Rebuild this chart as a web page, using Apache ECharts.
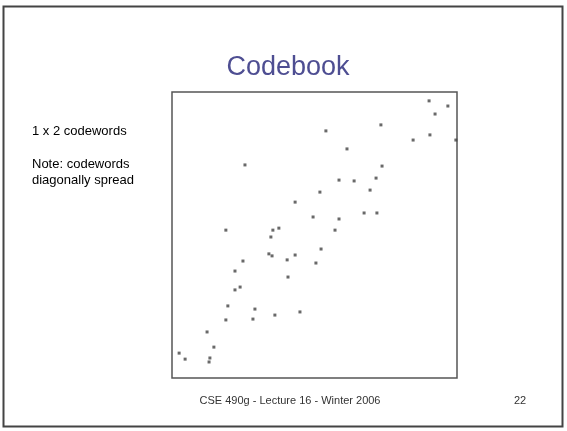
<!DOCTYPE html>
<html>
<head>
<meta charset="utf-8">
<title>Codebook</title>
<script src="https://cdn.jsdelivr.net/npm/echarts@6/dist/echarts.min.js"></script>
<style>
  html, body { margin: 0; padding: 0; background: #fff; }
  #chart { width: 567px; height: 431px; }
</style>
</head>
<body>
<div id="chart"></div>
<script>
// codeword positions (x, y), scale 0-100
var codeX = [90.2, 96.8, 92.3, 73.3, 54.0, 84.6, 90.5, 99.6, 61.4, 25.6,
  73.7, 58.6, 63.9, 71.6, 51.9, 69.5, 43.2, 49.5, 58.6, 67.4,
  71.9, 57.2, 18.9, 35.4, 37.5, 34.7, 34.0, 35.1, 43.2, 40.4,
  52.3, 50.5, 24.9, 22.1, 40.7, 22.1, 23.9, 19.6, 29.1, 28.4,
  36.1, 44.9, 18.9, 12.3, 14.7, 2.5, 4.6, 13.3, 13.0];
var codeY = [96.9, 95.1, 92.3, 88.5, 86.4, 83.2, 85.0, 83.2, 80.1, 74.5,
  74.1, 69.2, 68.9, 69.9, 65.0, 65.7, 61.5, 56.3, 55.6, 57.7,
  57.7, 51.7, 51.7, 51.7, 52.4, 49.3, 43.4, 42.7, 43.0, 41.3,
  45.1, 40.2, 40.9, 37.4, 35.3, 30.8, 31.8, 25.2, 24.1, 20.6,
  22.0, 23.1, 20.3, 16.1, 10.8, 8.7, 6.6, 7.0, 5.6];

var sideLines = ["1 x 2 codewords", "", "Note: codewords", "diagonally spread"];
var footerText = "CSE 490g - Lecture 16 - Winter 2006";
var pageNo = "22";

var points = [];
for (var i = 0; i < codeX.length; i++) {
  points.push([codeX[i], codeY[i]]);
}

var font = "Liberation Sans, Arial, sans-serif";
var myChart = echarts.init(document.getElementById("chart"));

var option = {
  backgroundColor: "#fff",
  animation: false,
  grid: {
    left: 172,
    top: 92,
    width: 285,
    height: 286,
    show: true,
    borderColor: "#555",
    borderWidth: 1.5,
  },
  xAxis: {
    type: "value",
    min: 0,
    max: 100,
    axisLine: { show: false },
    axisTick: { show: false },
    axisLabel: { show: false },
    splitLine: { show: false },
  },
  yAxis: {
    type: "value",
    min: 0,
    max: 100,
    axisLine: { show: false },
    axisTick: { show: false },
    axisLabel: { show: false },
    splitLine: { show: false },
  },
  graphic: [
    {
      type: "rect",
      shape: { x: 3.5, y: 6.5, width: 559, height: 420 },
      style: { fill: "none", stroke: "#444", lineWidth: 2 },
    },
    // slide title
    {
      type: "text",
      x: 288,
      y: 68,
      style: {
        text: "Codebook",
        align: "center",
        verticalAlign: "middle",
        fontFamily: font,
        fontSize: 27,
        fill: "#4e4e92",
      },
    },
    {
      type: "text",
      x: 32,
      y: 123,
      style: {
        text: sideLines.join("\n"),
        fontFamily: font,
        fontSize: 13,
        lineHeight: 16.5,
        fill: "#000",
      },
    },
    {
      type: "text",
      x: 290,
      y: 401,
      style: {
        text: footerText,
        align: "center",
        verticalAlign: "middle",
        fontFamily: font,
        fontSize: 11,
        fill: "#333",
      },
    },
    {
      type: "text",
      x: 520,
      y: 401,
      style: {
        text: pageNo,
        align: "center",
        verticalAlign: "middle",
        fontFamily: font,
        fontSize: 11,
        fill: "#333",
      },
    },
  ],
  series: [
    {
      type: "scatter",
      data: points,
      symbol: "rect",
      symbolSize: 3,
      itemStyle: { color: "#444" },
      silent: true,
    },
  ],
};

myChart.setOption(option);
</script>
</body>
</html>
